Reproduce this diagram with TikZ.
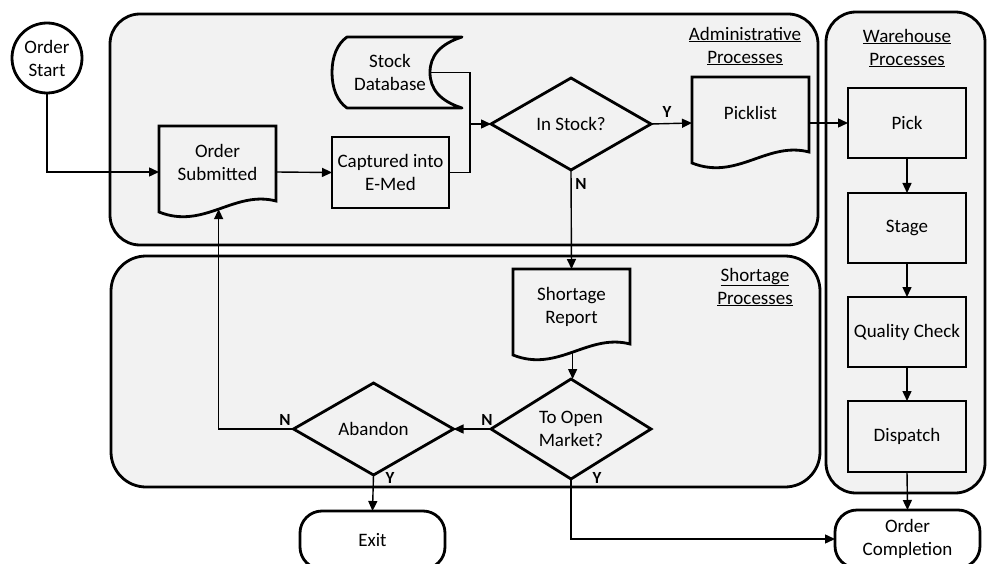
\documentclass[tikz,border=0pt]{standalone}
\usepackage{fontspec}
\setmainfont{Carlito}
\usetikzlibrary{arrows.meta,shapes.geometric,calc}
\definecolor{lanefill}{HTML}{F2F2F2}

% text of a document shape sits a little above the shape's middle
\newcommand\lifted[1]{\raisebox{8pt}[\height][\depth]{\begin{tabular}{@{}c@{}}#1\end{tabular}}}

% outline of a document shape around a named node, with a wavy bottom edge
\newcommand\docoutline[1]{%
  \draw[outline] (#1.north west) -- (#1.north east) -- ($(#1.north east)+(0,75)$)
    .. controls ($(#1.north east)+(-42,64)$) and ($(#1.north west)+(45,104)$) ..
    coordinate[pos=0.5] (#1-wave) ($(#1.north west)+(0,86)$) -- cycle;}

\tikzset{
  lane/.style={draw, line width=2.8pt, fill=lanefill},
  outline/.style={draw, line width=2.8pt},
  boxnode/.style={outline, rectangle, minimum width=118pt, minimum height=70pt,
    inner sep=1pt, outer sep=0pt, align=center},
  docnode/.style={rectangle, minimum width=117pt, minimum height=92pt,
    inner sep=0pt, outer sep=0pt, align=center},
  textonly/.style={inner sep=0pt, outer sep=0pt, align=center},
  decision/.style={outline, diamond, minimum width=160pt, minimum height=92pt,
    inner sep=0pt, outer sep=0pt, align=center},
  term/.style={outline, rectangle, rounded corners=22pt, minimum width=145pt,
    minimum height=58pt, outer sep=0pt, align=center},
  conn/.style={line width=1.4pt, -{Triangle[length=10pt,width=9pt]}},
  plainline/.style={line width=1.4pt},
  yn/.style={font=\fontsize{17}{19}\selectfont\bfseries, inner sep=0pt},
  lanetitle/.style={align=center, inner sep=0pt},
}

\begin{document}
\begin{tikzpicture}[x=1pt, y=-1pt, font=\fontsize{19}{23}\selectfont]
\clip (0,0) rectangle (987,564);

% swimlane containers
\draw[lane, rounded corners=30pt] (110,14) rectangle (818,245);
\draw[lane, rounded corners=35pt] (111,256) rectangle (820,487);
\draw[lane, rounded corners=30pt] (826,12) rectangle (985,493);

\node[lanetitle] (admtitle) at (745,46) {\underline{Administrative}\\\underline{Processes}};
\node[lanetitle] (whtitle) at (907,48) {\underline{Warehouse}\\\underline{Processes}};
\node[lanetitle] (shtitle) at (755,287) {\underline{Shortage}\\\underline{Processes}};

% start
\node[outline, circle, minimum size=70pt, inner sep=0pt, outer sep=0pt, align=center]
  (start) at (47,58) {Order\\Start};

% administrative lane
\node[docnode] (sub) at (217.5,172) {\lifted{Order\\Submitted}};
\docoutline{sub}
\node[boxnode, minimum width=117pt, minimum height=71pt] (cap) at (390.5,172.5) {Captured into\\E-Med};

\node[textonly, minimum width=80pt, minimum height=71pt] (db) at (390,72.5) {Stock\\Database};
\draw[outline, line join=round] (347,37) -- (462,37)
  .. controls (440,44) and (430,56) .. (430,72.5)
  .. controls (430,89) and (440,101) .. (462,108)
  -- (347,108)
  .. controls (337,101) and (332,88) .. (332,72.5)
  .. controls (332,57) and (337,44) .. (347,37) -- cycle;

\node[decision] (instock) at (571,124) {In Stock?};
\node[docnode] (pl) at (750.5,123) {\lifted{Picklist}};
\docoutline{pl}

% warehouse lane
\node[boxnode] (pick) at (907,123) {Pick};
\node[boxnode] (stage) at (907,228) {Stage};
\node[boxnode] (qc) at (907,332) {Quality Check};
\node[boxnode, minimum height=71pt] (disp) at (907,436.5) {Dispatch};

% shortage lane
\node[docnode] (sr) at (571.5,315) {\lifted{Shortage\\Report}};
\docoutline{sr}
\node[decision] (mkt) at (571,429) {To Open\\Market?};
\node[decision] (aband) at (373.5,429) {Abandon};

% terminators
\node[term] (exit) at (372.5,540) {Exit};
\node[term] (oc) at (907.5,539) {Order\\Completion};

% connectors
\draw[conn] (start.south) |- (sub.west);
\draw[conn] (sub.east) -- (cap.west);
\coordinate (merge) at (470,124);
\draw[plainline] (db.east) -| (merge);
\draw[plainline] (cap.east) -| (merge);
\draw[conn] (merge) -- (instock.west);
\draw[conn] (instock.east) -- (pl.west);
\draw[conn] (pl.east) -- (pick.west);
\draw[conn] (pick.south) -- (stage.north);
\draw[conn] (stage.south) -- (qc.north);
\draw[conn] (qc.south) -- (disp.north);
\draw[conn] (disp.south) -- (oc.north);
\draw[conn] (instock.south) -- (sr.north);
\draw[conn] (sr-wave) -- (sr-wave |- mkt.north);
\draw[conn] (mkt.west) -- (aband.east);
\draw[conn] (aband.west) -| (sub-wave);
\draw[conn] (aband.south) -- (exit.north);
\draw[conn] (mkt.south) |- (oc.west);

% branch labels
\node[yn] (ystock) at (667,112) {Y};
\node[yn] (nstock) at (581,184) {N};
\node[yn] (nmkt) at (487,420) {N};
\node[yn] (ymkt) at (597,478) {Y};
\node[yn] (naband) at (285,420) {N};
\node[yn] (yaband) at (390,478) {Y};
\end{tikzpicture}
\end{document}
